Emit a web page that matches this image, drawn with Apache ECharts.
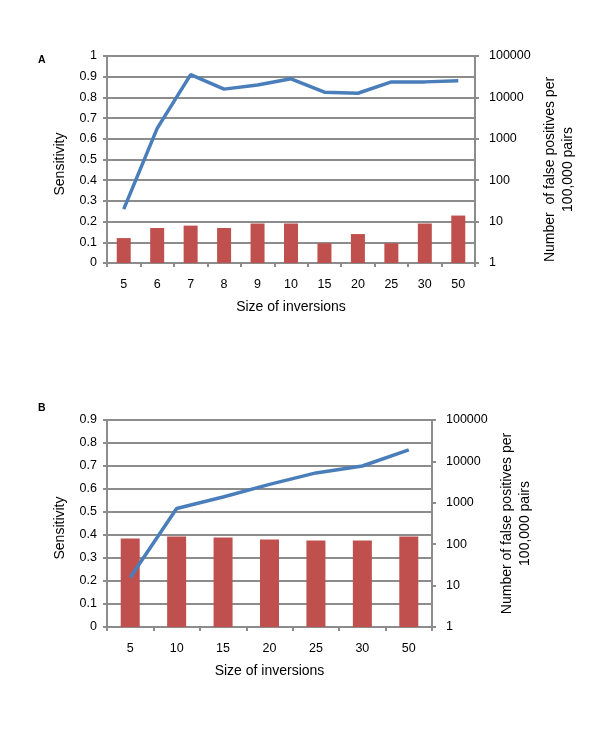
<!DOCTYPE html>
<html>
<head>
<meta charset="utf-8">
<script src="https://cdn.jsdelivr.net/npm/echarts@6/dist/echarts.min.js"></script>
<style>
html,body{margin:0;padding:0;background:#fff;}
#chart{width:600px;height:738px;}
</style>
</head>
<body>
<div id="chart"></div>
<script>
const categoriesA = ['5','6','7','8','9','10','15','20','25','30','50'];
const sensitivityA = [0.26, 0.65, 0.91, 0.84, 0.86, 0.89, 0.825, 0.82, 0.875, 0.875, 0.88];
const falsePositivesA = [4, 7, 8, 7, 9, 9, 3, 5, 3, 9, 14];

const categoriesB = ['5','10','15','20','25','30','50'];
const sensitivityB = [0.215, 0.515, 0.565, 0.62, 0.67, 0.70, 0.77];
const falsePositivesB = [138, 154, 146, 130, 123, 123, 154];

const xTitle = 'Size of inversions';
const leftTitle = 'Sensitivity';
const rightTitleA = 'Number  of false positives per\n100,000 pairs';
const rightTitleB = 'Number of false positives per\n100,000 pairs';

const FONT = 'Liberation Sans';
const GRID_COLOR = '#8c8c8c';
const TEXT_COLOR = '#000';
const BAR_COLOR = '#c0504d';
const LINE_COLOR = '#4a7ebb';

function xAxis(idx, cats) {
  return {
    type: 'category', gridIndex: idx, data: cats, boundaryGap: true,
    name: xTitle, nameLocation: 'middle', nameGap: 37,
    nameTextStyle: {fontFamily: FONT, fontSize: 14, color: TEXT_COLOR},
    axisLine: {lineStyle: {color: GRID_COLOR, width: 2}},
    axisTick: {show: true, length: 4, lineStyle: {color: GRID_COLOR, width: 2}},
    axisLabel: {margin: 15, fontFamily: FONT, fontSize: 12.5, color: TEXT_COLOR, interval: 0},
    splitLine: {show: false}
  };
}
function leftAxis(idx, max) {
  return {
    type: 'value', gridIndex: idx, min: 0, max: max, interval: 0.1,
    name: leftTitle, nameLocation: 'middle', nameGap: 40, nameRotate: 90,
    nameTextStyle: {fontFamily: FONT, fontSize: 14, color: TEXT_COLOR, padding: [0, 9, 0, 0]},
    axisLine: {show: true, lineStyle: {color: GRID_COLOR, width: 2}},
    axisTick: {show: true, length: 4, lineStyle: {color: GRID_COLOR, width: 2}},
    axisLabel: {margin: 10, fontFamily: FONT, fontSize: 12.5, color: TEXT_COLOR,
      formatter: v => String(+v.toFixed(1))},
    splitLine: {show: true, lineStyle: {color: GRID_COLOR, width: 2}}
  };
}
function rightAxis(idx, title, shift) {
  return {
    type: 'log', logBase: 10, gridIndex: idx, min: 1, max: 100000, position: 'right',
    name: title, nameLocation: 'middle', nameGap: 66, nameRotate: 90,
    nameTextStyle: {fontFamily: FONT, fontSize: 14, color: TEXT_COLOR, lineHeight: 18, align: 'center', padding: [0, shift, 0, 0]},
    axisLine: {show: true, lineStyle: {color: GRID_COLOR, width: 2}},
    axisTick: {show: true, length: 4, lineStyle: {color: GRID_COLOR, width: 2}},
    axisLabel: {margin: 14, fontFamily: FONT, fontSize: 12.5, color: TEXT_COLOR,
      formatter: v => String(Math.round(v))},
    splitLine: {show: false}
  };
}

const chart = echarts.init(document.getElementById('chart'), null, {renderer: 'canvas'});
chart.setOption({
  animation: false,
  backgroundColor: '#fff',
  graphic: [
    {type: 'text', left: 38, top: 55, style: {text: 'A', font: 'bold 10.5px "Liberation Sans"', fill: '#000'}},
    {type: 'text', left: 38, top: 403, style: {text: 'B', font: 'bold 10.5px "Liberation Sans"', fill: '#000'}}
  ],
  grid: [
    {left: 107, top: 56, width: 368, height: 207, containLabel: false},
    {left: 107, top: 420, width: 325, height: 207, containLabel: false}
  ],
  xAxis: [xAxis(0, categoriesA), xAxis(1, categoriesB)],
  yAxis: [leftAxis(0, 1), rightAxis(0, rightTitleA, 20), leftAxis(1, 0.9), rightAxis(1, rightTitleB, 0)],
  series: [
    {type: 'bar', xAxisIndex: 0, yAxisIndex: 1, data: falsePositivesA, barWidth: 14,
      itemStyle: {color: BAR_COLOR}, z: 2},
    {type: 'line', xAxisIndex: 0, yAxisIndex: 0, data: sensitivityA, symbol: 'none',
      lineStyle: {color: LINE_COLOR, width: 3.5}, z: 3},
    {type: 'bar', xAxisIndex: 1, yAxisIndex: 3, data: falsePositivesB, barWidth: 19,
      itemStyle: {color: BAR_COLOR}, z: 2},
    {type: 'line', xAxisIndex: 1, yAxisIndex: 2, data: sensitivityB, symbol: 'none',
      lineStyle: {color: LINE_COLOR, width: 3.5}, z: 3}
  ]
});
</script>
</body>
</html>
